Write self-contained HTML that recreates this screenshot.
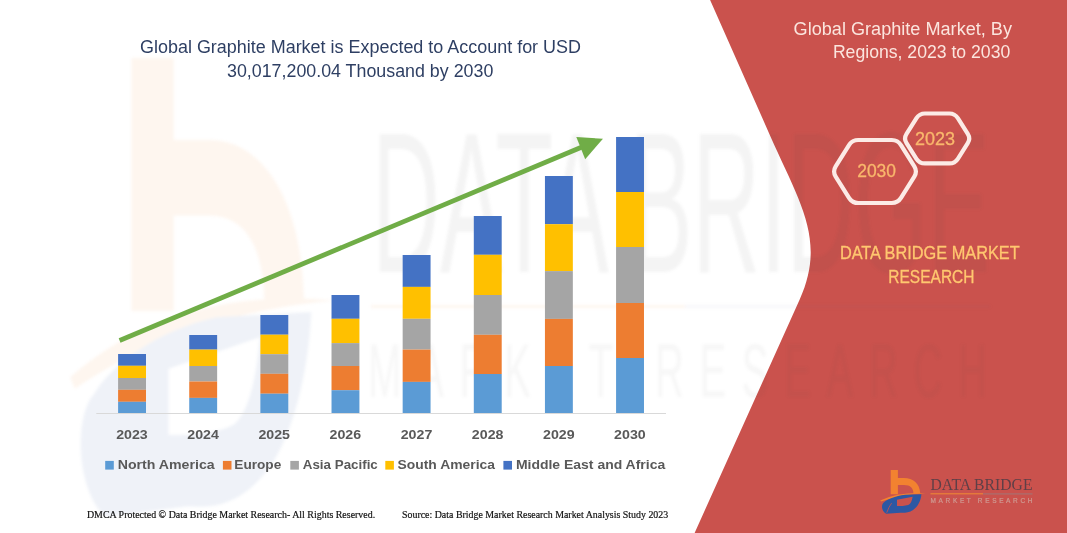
<!DOCTYPE html>
<html><head><meta charset="utf-8">
<style>
html,body{margin:0;padding:0;background:#fff;}
body{width:1067px;height:533px;overflow:hidden;position:relative;}
svg{position:absolute;left:0;top:0;}
text{font-family:"Liberation Sans",sans-serif;}
.ax{font-weight:bold;font-size:12.8px;fill:#595959;}
.lg{font-weight:bold;font-size:12.8px;fill:#595959;}
.ft{font-family:"Liberation Serif",serif;font-size:10.6px;fill:#111;stroke:#111;stroke-width:0.2px;}
</style></head><body>
<svg width="1067" height="533" viewBox="0 0 1067 533">
<defs>
<filter id="bl" x="-5%" y="-5%" width="110%" height="110%" color-interpolation-filters="sRGB"><feGaussianBlur stdDeviation="1.8"/></filter>
</defs>
<rect width="1067" height="533" fill="#fff"/>
<!-- red panel -->
<path d="M710.1 0 L770.14 135.68 C799.52 202.09 826.54 239.8 799.69 299.46 L694.6 533 H1067 V0 Z" fill="#CA524D"/>
<!-- watermark -->
<g filter="url(#bl)">
  <g opacity="0.075" transform="translate(131 58) scale(5.85 10.5) translate(-890.6 -470.1)">
  <path d="M890.7 470.1 H897.9 V477.9 H904 C913 477.9 919.9 483.5 920.2 493.3 L913.4 493.5 C913.4 488.5 910.5 485.1 904 485.1 H897.9 V494.2 H890.7 Z" fill="#F28230"/>
  <path d="M880.2 500.5 Q898 491.8 925.5 493.2 Q900 494.4 881 501.6 Z" fill="#F28230"/>
  <path d="M886.2 513.8 C881 511 881 504 884.3 502.1 C887 499.5 895 496 905.3 494.8 L921.4 494.3 C921 500 918 507 913.1 509.9 C909 512.5 905 513 900.4 512.8 Z M897 499.7 L912.6 496.7 C912 501 910.5 504 908.2 505 C905 506 900 506 897 506 Z" fill="#2D58A3" fill-rule="evenodd"/>
  </g>
  <text opacity="0.06" transform="translate(372 272) scale(1 2.72)" x="0" y="0" font-size="74" fill="#404040" textLength="618" lengthAdjust="spacingAndGlyphs">DATA BRIDGE</text>
  <rect opacity="0.08" x="371" y="305" width="314" height="3" fill="#F08A34"/>
  <rect opacity="0.05" x="685" y="305" width="305" height="3" fill="#5a6a98"/>
  <text opacity="0.045" transform="translate(368 397) scale(1 1.9)" x="0" y="0" font-size="40" fill="#404040" textLength="619" lengthAdjust="spacing">MARKET RESEARCH</text>
</g>
<!-- title -->
<text x="140" y="52.9" font-size="18.3" fill="#2E3F63" textLength="441" lengthAdjust="spacingAndGlyphs">Global Graphite Market is Expected to Account for USD</text>
<text x="227" y="76.5" font-size="18.3" fill="#2E3F63" textLength="266.3" lengthAdjust="spacingAndGlyphs">30,017,200.04 Thousand by 2030</text>
<!-- axis -->
<line x1="96.3" y1="413.5" x2="666" y2="413.5" stroke="#D9D9D9" stroke-width="1"/>
<rect x="118.10" y="354.00" width="27.9" height="11.80" fill="#4472C4"/><rect x="118.10" y="365.80" width="27.9" height="12.20" fill="#FFC000"/><rect x="118.10" y="378.00" width="27.9" height="11.80" fill="#A5A5A5"/><rect x="118.10" y="389.80" width="27.9" height="12.00" fill="#ED7D31"/><rect x="118.10" y="401.80" width="27.9" height="11.20" fill="#5B9BD5"/><rect x="189.24" y="335.00" width="27.9" height="14.60" fill="#4472C4"/><rect x="189.24" y="349.60" width="27.9" height="16.40" fill="#FFC000"/><rect x="189.24" y="366.00" width="27.9" height="15.50" fill="#A5A5A5"/><rect x="189.24" y="381.50" width="27.9" height="16.40" fill="#ED7D31"/><rect x="189.24" y="397.90" width="27.9" height="15.10" fill="#5B9BD5"/><rect x="260.38" y="315.00" width="27.9" height="19.70" fill="#4472C4"/><rect x="260.38" y="334.70" width="27.9" height="19.50" fill="#FFC000"/><rect x="260.38" y="354.20" width="27.9" height="19.60" fill="#A5A5A5"/><rect x="260.38" y="373.80" width="27.9" height="19.90" fill="#ED7D31"/><rect x="260.38" y="393.70" width="27.9" height="19.30" fill="#5B9BD5"/><rect x="331.52" y="295.00" width="27.9" height="23.80" fill="#4472C4"/><rect x="331.52" y="318.80" width="27.9" height="24.30" fill="#FFC000"/><rect x="331.52" y="343.10" width="27.9" height="22.90" fill="#A5A5A5"/><rect x="331.52" y="366.00" width="27.9" height="24.20" fill="#ED7D31"/><rect x="331.52" y="390.20" width="27.9" height="22.80" fill="#5B9BD5"/><rect x="402.66" y="255.00" width="27.9" height="31.90" fill="#4472C4"/><rect x="402.66" y="286.90" width="27.9" height="31.90" fill="#FFC000"/><rect x="402.66" y="318.80" width="27.9" height="30.80" fill="#A5A5A5"/><rect x="402.66" y="349.60" width="27.9" height="32.30" fill="#ED7D31"/><rect x="402.66" y="381.90" width="27.9" height="31.10" fill="#5B9BD5"/><rect x="473.80" y="216.00" width="27.9" height="38.80" fill="#4472C4"/><rect x="473.80" y="254.80" width="27.9" height="40.20" fill="#FFC000"/><rect x="473.80" y="295.00" width="27.9" height="39.80" fill="#A5A5A5"/><rect x="473.80" y="334.80" width="27.9" height="39.20" fill="#ED7D31"/><rect x="473.80" y="374.00" width="27.9" height="39.00" fill="#5B9BD5"/><rect x="544.94" y="176.00" width="27.9" height="48.20" fill="#4472C4"/><rect x="544.94" y="224.20" width="27.9" height="46.90" fill="#FFC000"/><rect x="544.94" y="271.10" width="27.9" height="47.80" fill="#A5A5A5"/><rect x="544.94" y="318.90" width="27.9" height="47.10" fill="#ED7D31"/><rect x="544.94" y="366.00" width="27.9" height="47.00" fill="#5B9BD5"/><rect x="616.08" y="137.00" width="27.9" height="55.00" fill="#4472C4"/><rect x="616.08" y="192.00" width="27.9" height="55.00" fill="#FFC000"/><rect x="616.08" y="247.00" width="27.9" height="56.00" fill="#A5A5A5"/><rect x="616.08" y="303.00" width="27.9" height="55.00" fill="#ED7D31"/><rect x="616.08" y="358.00" width="27.9" height="55.00" fill="#5B9BD5"/>
<text x="116.15" y="438.8" class="ax" textLength="31.6" lengthAdjust="spacingAndGlyphs">2023</text><text x="187.29" y="438.8" class="ax" textLength="31.6" lengthAdjust="spacingAndGlyphs">2024</text><text x="258.43" y="438.8" class="ax" textLength="31.6" lengthAdjust="spacingAndGlyphs">2025</text><text x="329.57" y="438.8" class="ax" textLength="31.6" lengthAdjust="spacingAndGlyphs">2026</text><text x="400.71" y="438.8" class="ax" textLength="31.6" lengthAdjust="spacingAndGlyphs">2027</text><text x="471.85" y="438.8" class="ax" textLength="31.6" lengthAdjust="spacingAndGlyphs">2028</text><text x="542.99" y="438.8" class="ax" textLength="31.6" lengthAdjust="spacingAndGlyphs">2029</text><text x="614.13" y="438.8" class="ax" textLength="31.6" lengthAdjust="spacingAndGlyphs">2030</text>
<!-- arrow -->
<line x1="119.6" y1="340.5" x2="582" y2="147" stroke="#70AD47" stroke-width="4.8"/>
<path d="M603 138.8 L576.3 136.9 L585.2 159.2 Z" fill="#70AD47"/>
<!-- legend -->
<rect x="105.2" y="460.9" width="8.6" height="8.7" fill="#5B9BD5"/>
<text x="117.7" y="468.8" class="lg" textLength="97" lengthAdjust="spacingAndGlyphs">North America</text>
<rect x="222.9" y="460.9" width="8.6" height="8.7" fill="#ED7D31"/>
<text x="234.3" y="468.8" class="lg" textLength="47" lengthAdjust="spacingAndGlyphs">Europe</text>
<rect x="290.3" y="460.9" width="8.6" height="8.7" fill="#A5A5A5"/>
<text x="302.8" y="468.8" class="lg" textLength="75" lengthAdjust="spacingAndGlyphs">Asia Pacific</text>
<rect x="385.3" y="460.9" width="8.6" height="8.7" fill="#FFC000"/>
<text x="397.5" y="468.8" class="lg" textLength="97.5" lengthAdjust="spacingAndGlyphs">South America</text>
<rect x="503.4" y="460.9" width="8.6" height="8.7" fill="#4472C4"/>
<text x="515.9" y="468.8" class="lg" textLength="149.3" lengthAdjust="spacingAndGlyphs">Middle East and Africa</text>
<!-- footer -->
<text x="86.9" y="518.3" class="ft" textLength="288.3" lengthAdjust="spacingAndGlyphs">DMCA Protected © Data Bridge Market Research-  All Rights Reserved.</text>
<text x="402" y="518.3" class="ft" textLength="266.2" lengthAdjust="spacingAndGlyphs">Source: Data Bridge Market Research  Market Analysis Study 2023</text>
<!-- right panel text -->
<text x="793.6" y="34.6" font-size="18" fill="#FBE5DE" textLength="218.4" lengthAdjust="spacingAndGlyphs">Global Graphite Market, By</text>
<text x="832.9" y="58" font-size="18" fill="#FBE5DE" textLength="177.4" lengthAdjust="spacingAndGlyphs">Regions, 2023 to 2030</text>
<!-- hexagons -->
<path d="M835.68 176.59 Q832.50 171.50 835.68 166.41 L849.02 145.09 Q852.20 140.00 858.20 140.00 L891.80 140.00 Q897.80 140.00 900.98 145.09 L914.32 166.41 Q917.50 171.50 914.32 176.59 L900.98 197.91 Q897.80 203.00 891.80 203.00 L858.20 203.00 Q852.20 203.00 849.02 197.91 Z" fill="none" stroke="#FCEBE6" stroke-width="4.2"/>
<path d="M906.55 143.14 Q903.60 138.50 906.54 133.85 L916.46 118.15 Q919.40 113.50 924.90 113.50 L949.40 113.50 Q954.90 113.50 957.84 118.15 L967.76 133.85 Q970.70 138.50 967.75 143.14 L957.85 158.76 Q954.90 163.40 949.40 163.40 L924.90 163.40 Q919.40 163.40 916.45 158.76 Z" fill="none" stroke="#FCEBE6" stroke-width="4.2"/>
<text x="857.2" y="176.8" font-size="17.5" fill="#F9B86C" stroke="#F9B86C" stroke-width="0.3" textLength="38.8" lengthAdjust="spacingAndGlyphs">2030</text>
<text x="915" y="145" font-size="17.5" fill="#F9B86C" stroke="#F9B86C" stroke-width="0.3" textLength="40" lengthAdjust="spacingAndGlyphs">2023</text>
<text x="839.9" y="259" font-size="17.6" fill="#FFC76F" stroke="#FFC76F" stroke-width="0.3" textLength="179.8" lengthAdjust="spacingAndGlyphs">DATA BRIDGE MARKET</text>
<text x="888.3" y="282.8" font-size="17.6" fill="#FFC76F" stroke="#FFC76F" stroke-width="0.3" textLength="86.2" lengthAdjust="spacingAndGlyphs">RESEARCH</text>
<!-- small logo -->
<path d="M890.7 470.1 H897.9 V477.9 H904 C913 477.9 919.9 483.5 920.2 493.3 L913.4 493.5 C913.4 488.5 910.5 485.1 904 485.1 H897.9 V494.2 H890.7 Z" fill="#F28230"/>
  <path d="M880.2 500.5 Q898 491.8 925.5 493.2 Q900 494.4 881 501.6 Z" fill="#F28230"/>
  <path d="M886.2 513.8 C881 511 881 504 884.3 502.1 C887 499.5 895 496 905.3 494.8 L921.4 494.3 C921 500 918 507 913.1 509.9 C909 512.5 905 513 900.4 512.8 Z M897 499.7 L912.6 496.7 C912 501 910.5 504 908.2 505 C905 506 900 506 897 506 Z" fill="#2D58A3" fill-rule="evenodd"/>
<path d="M891.6 503.1 Q888.7 507 886.7 512.8" stroke="#CA524D" stroke-width="0.8" fill="none"/>
<text transform="translate(930.5 490.3) scale(1 1.3)" font-size="13.5" fill="#5E3F47" textLength="102" lengthAdjust="spacingAndGlyphs" style="font-family:'Liberation Serif'">DATA BRIDGE</text>
<rect x="930.5" y="493.3" width="52.5" height="1" fill="#F08A34"/>
<rect x="983" y="493.3" width="49.5" height="1.2" fill="#A87070"/>
<text x="930.5" y="503.2" font-size="6.5" fill="#CF9A92" stroke="#CF9A92" stroke-width="0.2" textLength="102" lengthAdjust="spacing">MARKET RESEARCH</text>
</svg>
</body></html>
